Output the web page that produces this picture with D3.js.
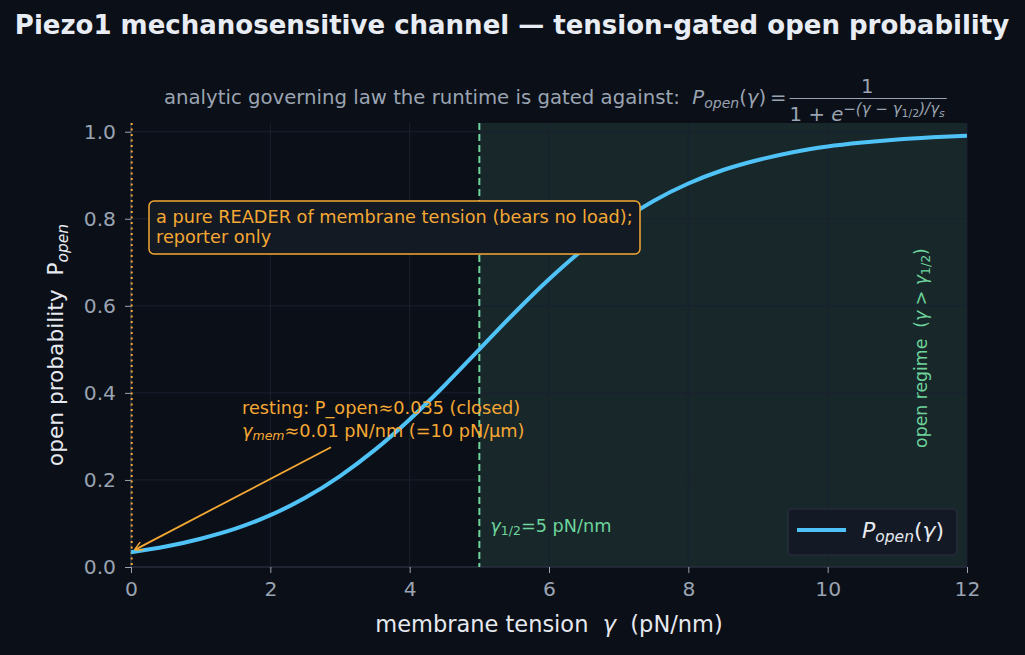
<!DOCTYPE html>
<html lang="en">
<head>
<meta charset="UTF-8">
<title>Piezo1 open probability</title>
<script src="https://d3js.org/d3.v7.min.js"></script>
<style>
  body { margin: 0; background: #0b0f17; }
  svg { display: block; font-family: "DejaVu Sans", sans-serif; }
  svg text { white-space: pre; }
</style>
</head>
<body>
<svg id="canvas"></svg>
<script>
// tension (pN/nm) and open probability
let tension = [0, 0.5, 1, 1.5, 2, 2.5, 3, 3.5, 4, 4.5, 5, 5.5, 6, 6.5, 7, 7.5, 8, 8.5, 9, 9.5, 10, 10.5, 11, 11.5, 12]
let pOpen = [0.034, 0.047, 0.065, 0.088, 0.119, 0.159, 0.209, 0.269, 0.339, 0.417, 0.5, 0.583, 0.661, 0.731, 0.791, 0.841, 0.881, 0.912, 0.935, 0.953, 0.966, 0.975, 0.982, 0.987, 0.991]
let xTicks = [0, 2, 4, 6, 8, 10, 12]
let yTicks = [0, 0.2, 0.4, 0.6, 0.8, 1.0]
let gammaHalf = 5
let gammaRest = 0.01
let pRest = 0.035

let width = 1025
let height = 655
let padL = 131, padR = 967, padT = 123, padB = 567

let orange = "#f5a833"
let green = "#6dd49c"
let blue = "#4fc3f7"
let tickCol = "#9aa4b2"
let annoSize = "17.7px"

let svg = d3.select("#canvas").attr("width", width).attr("height", height)
svg.append("rect").attr("width", width).attr("height", height).attr("fill", "#0b0f17")

let xScale = d3.scaleLinear().domain([0, 12]).range([padL, padR])
let yScale = d3.scaleLinear().domain([0, 1.02]).range([padB, padT])

// open regime shading
svg.append("rect")
   .attr("x", xScale(gammaHalf)).attr("y", padT)
   .attr("width", xScale(12) - xScale(gammaHalf)).attr("height", padB - padT)
   .attr("fill", "#18272a")

// grid
svg.append("g").selectAll("line").data(xTicks).enter().append("line")
   .attr("x1", d => xScale(d)).attr("x2", d => xScale(d))
   .attr("y1", padT).attr("y2", padB)
   .attr("stroke", "#1a2130").attr("stroke-width", 1)
svg.append("g").selectAll("line").data(yTicks).enter().append("line")
   .attr("x1", padL).attr("x2", padR)
   .attr("y1", d => yScale(d)).attr("y2", d => yScale(d))
   .attr("stroke", "#1a2130").attr("stroke-width", 1)

// axes
let xAxis = d3.axisBottom(xScale).tickValues(xTicks).tickFormat(d3.format("d")).tickSize(6).tickPadding(9)
let gx = svg.append("g").attr("transform", "translate(0," + padB + ")").call(xAxis)
let yAxis = d3.axisLeft(yScale).tickValues(yTicks).tickFormat(d3.format(".1f")).tickSize(6).tickPadding(9)
let gy = svg.append("g").attr("transform", "translate(" + padL + ",0)").call(yAxis)
for (let g of [gx, gy]) {
  g.select(".domain").attr("stroke", "#2e3544").attr("stroke-width", 1.2)
  g.selectAll(".tick line").attr("stroke", tickCol)
  g.selectAll(".tick text").attr("fill", tickCol).style("font-size", "20.3px").attr("font-family", "DejaVu Sans")
}
gx.select(".domain").attr("d", "M" + padL + ",0H" + padR)
gy.select(".domain").attr("d", "M0," + padB + "V" + padT)

// reference lines
svg.append("line")
   .attr("x1", xScale(gammaRest)).attr("x2", xScale(gammaRest))
   .attr("y1", padT).attr("y2", padB)
   .attr("stroke", orange).attr("stroke-width", 2).attr("stroke-dasharray", "2,3.5")
svg.append("line")
   .attr("x1", xScale(gammaHalf)).attr("x2", xScale(gammaHalf))
   .attr("y1", padT).attr("y2", padB)
   .attr("stroke", green).attr("stroke-width", 2).attr("stroke-dasharray", "7,4")

// curve
let line = d3.line().x((d, i) => xScale(tension[i])).y(d => yScale(d)).curve(d3.curveMonotoneX)
svg.append("path").datum(pOpen).attr("d", line)
   .attr("fill", "none").attr("stroke", blue).attr("stroke-width", 4)

// title + subtitle
svg.append("text").attr("x", 512).attr("y", 34).attr("text-anchor", "middle")
   .attr("fill", "#e8ecf3").style("font-size", "26px").style("font-weight", "bold")
   .text("Piezo1 mechanosensitive channel \u2014 tension-gated open probability")

let sub = svg.append("text").attr("x", 164).attr("y", 104).attr("fill", tickCol).style("font-size", "19.7px")
sub.append("tspan").text("analytic governing law the runtime is gated against:  ")
sub.append("tspan").attr("font-style", "italic").text("P")
sub.append("tspan").attr("font-style", "italic").attr("dy", 4).style("font-size", "14px").text("open")
sub.append("tspan").attr("dy", -4).text("(")
sub.append("tspan").attr("font-style", "italic").text("\u03b3")
sub.append("tspan").text(")\u2009=")
let fracX = sub.node().getBBox().x + sub.node().getBBox().width + 3

// fraction
let den = svg.append("text").attr("x", fracX).attr("y", 121).attr("fill", tickCol).style("font-size", "19.7px")
den.append("tspan").text("1 + ")
den.append("tspan").attr("font-style", "italic").text("e")
den.append("tspan").attr("dy", -7).style("font-size", "15px").attr("font-style", "italic")
   .text("\u2212(\u03b3 \u2212 \u03b3")
den.append("tspan").attr("dy", 3).style("font-size", "11px").text("1/2")
den.append("tspan").attr("dy", -3).style("font-size", "15px").attr("font-style", "italic").text(")/\u03b3")
den.append("tspan").attr("dy", 3).style("font-size", "11px").attr("font-style", "italic").text("s")
let denW = den.node().getComputedTextLength()
svg.append("line").attr("x1", fracX).attr("x2", fracX + denW + 2).attr("y1", 98.5).attr("y2", 98.5)
   .attr("stroke", tickCol).attr("stroke-width", 1.2)
svg.append("text").attr("x", fracX + denW / 2).attr("y", 93).attr("text-anchor", "middle")
   .attr("fill", tickCol).style("font-size", "19.7px").text("1")

// axis labels
let xl = svg.append("text").attr("x", 549).attr("y", 632).attr("text-anchor", "middle")
   .attr("fill", "#e6e9ef").style("font-size", "22.5px")
xl.append("tspan").text("membrane tension  ")
xl.append("tspan").attr("font-style", "italic").text("\u03b3")
xl.append("tspan").text("  (pN/nm)")

let yl = svg.append("text").attr("transform", "translate(63,345) rotate(-90)").attr("text-anchor", "middle")
   .attr("fill", "#e6e9ef").style("font-size", "21.7px")
yl.append("tspan").text("open probability  P")
yl.append("tspan").attr("font-style", "italic").attr("dy", 5).style("font-size", "15.5px").text("open")

// reader box
svg.append("rect").attr("x", 149).attr("y", 201).attr("width", 491).attr("height", 53)
   .attr("rx", 5).attr("fill", "#131a24").attr("stroke", orange).attr("stroke-width", 1.5)
svg.append("text").attr("x", 156).attr("y", 223).attr("fill", orange).style("font-size", annoSize)
   .text("a pure READER of membrane tension (bears no load);")
svg.append("text").attr("x", 156).attr("y", 243).attr("fill", orange).style("font-size", annoSize)
   .text("reporter only")

// resting annotation
svg.append("text").attr("x", 242).attr("y", 414).attr("fill", orange).style("font-size", annoSize)
   .text("resting: P_open\u22480.035 (closed)")
let rt = svg.append("text").attr("x", 242).attr("y", 437).attr("fill", orange).style("font-size", annoSize)
rt.append("tspan").attr("font-style", "italic").text("\u03b3")
rt.append("tspan").attr("font-style", "italic").attr("dy", 3).style("font-size", "12.5px").text("mem")
rt.append("tspan").attr("dy", -3).text("\u22480.01 pN/nm (=10 pN/\u03bcm)")

svg.append("defs").append("marker").attr("id", "arr")
   .attr("viewBox", "0 0 10 10").attr("refX", 9).attr("refY", 5)
   .attr("markerWidth", 9).attr("markerHeight", 9).attr("orient", "auto")
   .attr("markerUnits", "userSpaceOnUse")
   .append("path").attr("d", "M0,0 L10,5 L0,10").attr("fill", "none").attr("stroke", orange).attr("stroke-width", 1.6)
svg.append("line")
   .attr("x1", xScale(2.87)).attr("y1", yScale(0.275))
   .attr("x2", xScale(0.06)).attr("y2", yScale(pRest + 0.005))
   .attr("stroke", orange).attr("stroke-width", 1.8).attr("marker-end", "url(#arr)")

// gamma half label
let gh = svg.append("text").attr("x", xScale(gammaHalf) + 11).attr("y", 532).attr("fill", green).style("font-size", annoSize)
gh.append("tspan").attr("font-style", "italic").text("\u03b3")
gh.append("tspan").attr("dy", 3).style("font-size", "12.5px").text("1/2")
gh.append("tspan").attr("dy", -3).text("=5 pN/nm")

// open regime label
let og = svg.append("text").attr("transform", "translate(927,348) rotate(-90)").attr("text-anchor", "middle")
   .attr("fill", green).style("font-size", "17.3px")
og.append("tspan").text("open regime  (")
og.append("tspan").attr("font-style", "italic").text("\u03b3")
og.append("tspan").text(" > ")
og.append("tspan").attr("font-style", "italic").text("\u03b3")
og.append("tspan").attr("dy", 3).style("font-size", "12.5px").text("1/2")
og.append("tspan").attr("dy", -3).text(")")

// legend
svg.append("rect").attr("x", 788).attr("y", 509).attr("width", 169).attr("height", 46)
   .attr("rx", 4).attr("fill", "#141a25").attr("stroke", "#2a3140").attr("stroke-width", 1.2)
svg.append("line").attr("x1", 797).attr("x2", 846).attr("y1", 530).attr("y2", 530)
   .attr("stroke", blue).attr("stroke-width", 4)
let lg = svg.append("text").attr("x", 862).attr("y", 538).attr("fill", "#e6e9ef").style("font-size", "22px")
lg.append("tspan").attr("font-style", "italic").text("P")
lg.append("tspan").attr("font-style", "italic").attr("dy", 4).style("font-size", "15.5px").text("open")
lg.append("tspan").attr("dy", -4).text("(")
lg.append("tspan").attr("font-style", "italic").text("\u03b3")
lg.append("tspan").text(")")
</script>
</body>
</html>
